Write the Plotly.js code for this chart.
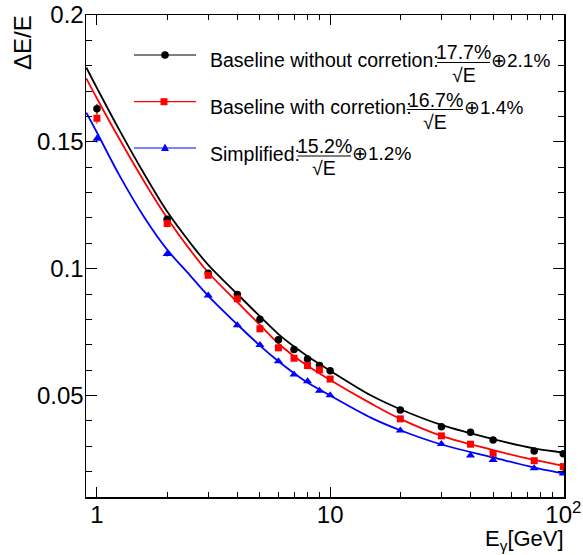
<!DOCTYPE html>
<html>
<head>
<meta charset="utf-8">
<script src="https://cdn.plot.ly/plotly-3.0.1.min.js"></script>
<style>html,body{margin:0;padding:0;background:#fff;}#chart{width:583px;height:555px;}</style>
</head>
<body>
<div id="chart"></div>
<script>
// ---- data ----
const energies = [1, 2, 3, 4, 5, 6, 7, 8, 9, 10, 20, 30, 40, 50, 75, 100];
const baselineNoCorr = [0.1630, 0.1195, 0.0982, 0.0898, 0.0801, 0.0720, 0.0681, 0.0644, 0.0618, 0.0598, 0.0443, 0.0377, 0.0355, 0.0325, 0.0281, 0.0270];
const baselineNoCorrErr = [0.0020, 0.0012, 0.0010, 0.0012, 0.0010, 0.0008, 0.0008, 0.0008, 0.0008, 0.0008, 0.0006, 0.0006, 0.0006, 0.0006, 0.0006, 0.0006];
const baselineCorr = [0.1593, 0.1178, 0.0974, 0.0881, 0.0763, 0.0688, 0.0647, 0.0618, 0.0601, 0.0565, 0.0408, 0.0341, 0.0308, 0.0272, 0.0243, 0.0220];
const baselineCorrErr = [0.0022, 0.0015, 0.0010, 0.0010, 0.0008, 0.0008, 0.0008, 0.0008, 0.0008, 0.0008, 0.0006, 0.0006, 0.0006, 0.0006, 0.0006, 0.0006];
const simplified = [0.1512, 0.1058, 0.0894, 0.0777, 0.0699, 0.0635, 0.0583, 0.0556, 0.0519, 0.0501, 0.0362, 0.0309, 0.0264, 0.0246, 0.0213, 0.0193];
const simplifiedErr = [0.0015, 0.0010, 0.0008, 0.0008, 0.0008, 0.0006, 0.0006, 0.0006, 0.0006, 0.0006, 0.0005, 0.0005, 0.0005, 0.0005, 0.0005, 0.0005];

// fit curves
const fitE = [0.9, 1, 1.25, 1.6, 2, 2.5, 3, 4, 5, 6, 7, 8, 10, 15, 20, 30, 50, 75, 100, 101];
const fitNoCorr = [0.1793, 0.1712, 0.1545, 0.1371, 0.1225, 0.1104, 0.1015, 0.0900, 0.0812, 0.0742, 0.0693, 0.0655, 0.0598, 0.0500, 0.0446, 0.0384, 0.0328, 0.0292, 0.0275, 0.0274];
const fitCorr = [0.1750, 0.1671, 0.1510, 0.1341, 0.1200, 0.1076, 0.0985, 0.0868, 0.0778, 0.0705, 0.0655, 0.0617, 0.0561, 0.0468, 0.0408, 0.0341, 0.0285, 0.0246, 0.0223, 0.0222];
const fitSimpl = [0.1615, 0.1537, 0.1367, 0.1201, 0.1075, 0.0975, 0.0893, 0.0780, 0.0697, 0.0635, 0.0588, 0.0551, 0.0500, 0.0412, 0.0363, 0.0307, 0.0256, 0.0216, 0.0193, 0.0192];

const seriesNames = ["Baseline without corretion:", "Baseline with corretion:", "Simplified:"];
const stochTerms = ["17.7%", "16.7%", "15.2%"];
const constTerms = ["\u22952.1%", "\u22951.4%", "\u22951.2%"];

const xTickVals = [1, 10, 100];
const xTickText = ["1", "10", "10<sup>2</sup>"];
const xMinorVals = [2, 3, 4, 5, 6, 7, 8, 9, 20, 30, 40, 50, 60, 70, 80, 90];
const yTickVals = [0.05, 0.1, 0.15, 0.2];
const yTickText = ["0.05", "0.1", "0.15", "0.2"];
const yMinorVals = [0.01, 0.02, 0.03, 0.04, 0.06, 0.07, 0.08, 0.09, 0.11, 0.12, 0.13, 0.14, 0.16, 0.17, 0.18, 0.19];

// ---- styling ----
const FONT = "Liberation Sans, Arial, Helvetica, sans-serif";
const colors = ["#000000", "#ff0000", "#0000ff"];
const symbols = ["circle", "square", "triangle-up"];
const msizes = [7.5, 7, 8];

const pointsY = [baselineNoCorr, baselineCorr, simplified];
const pointsErr = [baselineNoCorrErr, baselineCorrErr, simplifiedErr];
const fitsY = [fitNoCorr, fitCorr, fitSimpl];

const traces = [];
for (let i = 0; i < 3; i++) {
  traces.push({
    x: fitE, y: fitsY[i], type: "scatter", mode: "lines",
    line: {color: colors[i], width: 1.8, shape: "spline", smoothing: 1},
    showlegend: false, hoverinfo: "skip"
  });
}
for (let i = 0; i < 3; i++) {
  traces.push({
    x: energies, y: pointsY[i], type: "scatter", mode: "markers",
    marker: {color: colors[i], symbol: symbols[i], size: msizes[i], line: {width: 0}},
    error_y: {type: "data", array: pointsErr[i], color: colors[i], thickness: 1, width: 0},
    name: seriesNames[i], showlegend: false
  });
}

// plot area in pixels
const L = 86, R = 19, T = 15, B = 58, W = 583, H = 555;
const pw = W - L - R, ph = H - T - B;
const px = v => (v - L) / pw;
const py = v => 1 - (v - T) / ph;

const annotations = [];
const shapes = [];
const rowY = [60, 107, 153.5];        // main text centre
const lineY = [55, 101.7, 148];       // legend sample line
const fracL = [437, 407, 297.5];
const fracR = [490, 463, 351];
for (let i = 0; i < 3; i++) {
  annotations.push({xref: "paper", yref: "paper", x: px(208), y: py(rowY[i]), xanchor: "left", yanchor: "middle",
    text: seriesNames[i], showarrow: false, font: {family: FONT, size: 19.5, color: "#000"}});
  const cx = (fracL[i] + fracR[i]) / 2;
  annotations.push({xref: "paper", yref: "paper", x: px(cx), y: py(rowY[i] - 7.5), xanchor: "center", yanchor: "middle",
    text: stochTerms[i], showarrow: false, font: {family: FONT, size: 19.5, color: "#000"}});
  annotations.push({xref: "paper", yref: "paper", x: px(cx), y: py(rowY[i] + 14.5), xanchor: "center", yanchor: "middle",
    text: "\u221AE", showarrow: false, font: {family: FONT, size: 19.5, color: "#000"}});
  annotations.push({xref: "paper", yref: "paper", x: px(fracR[i] - 1), y: py(rowY[i]), xanchor: "left", yanchor: "middle",
    text: constTerms[i], showarrow: false, font: {family: FONT, size: 19, color: "#000"}});
  shapes.push({type: "line", xref: "paper", yref: "paper", x0: px(fracL[i]), x1: px(fracR[i]),
    y0: py(rowY[i] + 2.5), y1: py(rowY[i] + 2.5), line: {color: "#000", width: 1}});
  // legend sample
  shapes.push({type: "line", xref: "paper", yref: "paper", x0: px(134), x1: px(196),
    y0: py(lineY[i]), y1: py(lineY[i]), line: {color: colors[i], width: 1.2}});
}
// legend markers
shapes.push({type: "circle", xref: "paper", yref: "paper", xsizemode: "pixel", ysizemode: "pixel",
  xanchor: px(165), yanchor: py(lineY[0]), x0: -3.8, x1: 3.8, y0: -3.8, y1: 3.8,
  fillcolor: colors[0], line: {width: 0}});
shapes.push({type: "rect", xref: "paper", yref: "paper", xsizemode: "pixel", ysizemode: "pixel",
  xanchor: px(164), yanchor: py(lineY[1]), x0: -3.5, x1: 3.5, y0: -3.5, y1: 3.5,
  fillcolor: colors[1], line: {width: 0}});
shapes.push({type: "path", xref: "paper", yref: "paper", xsizemode: "pixel", ysizemode: "pixel",
  xanchor: px(165), yanchor: py(lineY[2]), path: "M-4,-3 L4,-3 L0,4.5 Z",
  fillcolor: colors[2], line: {width: 0}});

// axis titles
annotations.push({xref: "paper", yref: "paper", x: px(22), y: py(43), xanchor: "center", yanchor: "middle",
  text: "\u0394E/E", textangle: -90, showarrow: false, font: {family: FONT, size: 24, color: "#000"}});
annotations.push({xref: "paper", yref: "paper", x: px(565), y: py(555), xanchor: "right", yanchor: "bottom",
  borderpad: 0, text: "E<sub>\u03B3</sub>[GeV]", showarrow: false, font: {family: FONT, size: 22, color: "#000"}});

const layout = {
  width: W, height: H,
  margin: {l: L, r: R, t: T, b: B, pad: 0},
  paper_bgcolor: "#fff", plot_bgcolor: "#fff",
  font: {family: FONT, size: 24, color: "#000"},
  showlegend: false,
  xaxis: {
    type: "log", range: [-0.047, 2.003],
    tickmode: "array", tickvals: xTickVals, ticktext: xTickText,
    ticks: "inside", ticklen: 10, tickwidth: 1, tickcolor: "#000",
    showline: true, linecolor: "#000", linewidth: 1.5, mirror: "allticks",
    showgrid: false, zeroline: false, ticklabelstandoff: -4,
    tickfont: {family: FONT, size: 24, color: "#000"},
    minor: {tickmode: "array", tickvals: xMinorVals, ticks: "inside", ticklen: 5, tickwidth: 1, tickcolor: "#000", showgrid: false}
  },
  yaxis: {
    range: [0.01, 0.2],
    tickmode: "array", tickvals: yTickVals, ticktext: yTickText,
    ticks: "inside", ticklen: 11, tickwidth: 1, tickcolor: "#000",
    showline: true, linecolor: "#000", linewidth: 1.5, mirror: "allticks",
    showgrid: false, zeroline: false, ticklabelstandoff: -4,
    tickfont: {family: FONT, size: 24, color: "#000"},
    minor: {tickmode: "array", tickvals: yMinorVals, ticks: "inside", ticklen: 6, tickwidth: 1, tickcolor: "#000", showgrid: false}
  },
  annotations: annotations,
  shapes: shapes
};

Plotly.newPlot("chart", traces, layout, {displayModeBar: false, staticPlot: true});
</script>
</body>
</html>
